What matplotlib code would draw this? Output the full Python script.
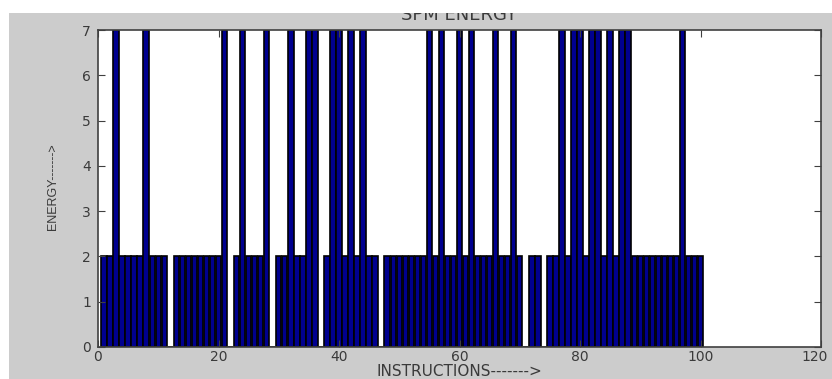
import matplotlib
matplotlib.use("Agg")
import matplotlib.pyplot as plt
from matplotlib.patches import Rectangle
from matplotlib.transforms import ScaledTranslation

# ---- data ----
instructions = list(range(1, 101))
zero_at = [12, 22, 29, 37, 47, 71, 74]
seven_at = [3, 8, 21, 24, 28, 32, 35, 36, 39, 40, 42, 44, 55, 57, 60, 62,
            66, 69, 77, 79, 80, 82, 83, 85, 87, 88, 97]
energy = [0 if i in zero_at else (7 if i in seven_at else 2) for i in instructions]
x_ticks = [0, 20, 40, 60, 80, 100, 120]
y_ticks = [0, 1, 2, 3, 4, 5, 6, 7]

W, H = 832, 379
fig = plt.figure(figsize=(W / 100, H / 100), dpi=100)
fig.patch.set_facecolor("white")

# gray figure background (with white margin at top/left as in the scan)
fig.patches.append(Rectangle((9 / W, 0), 1 - 9 / W, (H - 13) / H,
                             transform=fig.transFigure, facecolor="#cccccc",
                             edgecolor="none", zorder=-10))

ax = fig.add_axes([98 / W, (H - 347) / H, 723 / W, 317 / H])
ax.set_facecolor("white")
ax.bar(instructions, energy, width=0.9, color="#00008f", edgecolor="black",
       linewidth=1.2)
ax.set_xlim(0, 120)
ax.set_ylim(0, 7)
ax.set_xticks(x_ticks)
ax.set_yticks(y_ticks)

font = dict(family=["DejaVu Sans"], color="#3a3a3a")
ax.set_xticklabels([str(t) for t in x_ticks], fontsize=10, **font)
ax.set_yticklabels([str(t) for t in y_ticks], fontsize=10, **font)
ax.tick_params(direction="in", length=5, width=0.8, color="#404040",
               top=True, right=True)
ax.tick_params(axis="x", pad=2)
ax.tick_params(axis="y", pad=5)
for s in ax.spines.values():
    s.set_color("#404040")
    s.set_linewidth(1.2)

# keep the last x tick label inside the figure
last = ax.get_xticklabels()[-1]
last.set_transform(last.get_transform() +
                   ScaledTranslation(-6 / 100, 0, fig.dpi_scale_trans))

fig.text(459 / W, (H - 20) / H, "SPM ENERGY", ha="center", va="baseline",
         fontsize=13, **font)
fig.text(459 / W, 0.5 / H, "INSTRUCTIONS------->", ha="center", va="bottom",
         fontsize=11, **font)
fig.text(53 / W, (H - 187) / H, "ENERGY------->", ha="center", va="center",
         rotation=90, fontsize=9, family=["Liberation Sans", "DejaVu Sans"],
         color="#3a3a3a")

# white band that clips the top of the title, as in the reference
fig.patches.append(Rectangle((0, (H - 13) / H), 1, 13 / H,
                             transform=fig.transFigure, facecolor="white",
                             edgecolor="none", zorder=20))

fig.savefig("out.png", dpi=100, facecolor=fig.get_facecolor())
